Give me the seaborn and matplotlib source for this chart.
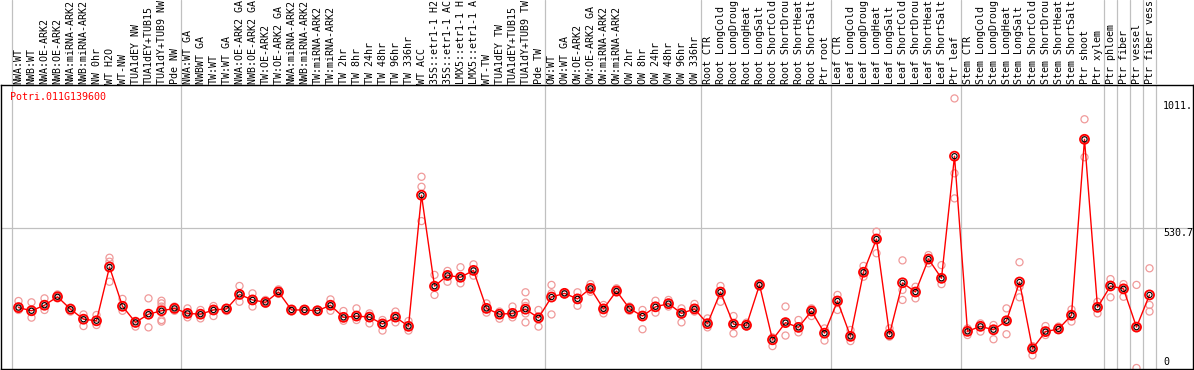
import numpy as np
import pandas as pd
import matplotlib
matplotlib.use('Agg')
import matplotlib.pyplot as plt
import seaborn as sns

gene = "Potri.011G139600"

# sample names as they show in the header (cut at 14 characters)
labels = [
    "NWA:WT", "NWB:WT", "NWA:OE-ARK2", "NWB:OE-ARK2", "NWA:miRNA-ARK2", "NWB:miRNA-ARK2",
    "NW 0hr", "WT H2O", "WT-NW", "TUA1dEY NW", "TUA1dEY+TUB15", "TUA1dY+TUB9 NW", "Pde NW",
    "NWA:WT GA", "NWBWT GA", "TW:WT", "TW:WT GA", "NWA:OE-ARK2 GA", "NWB:OE-ARK2 GA",
    "TW:OE-ARK2", "TW:OE-ARK2 GA", "NWA:miRNA-ARK2", "NWB:miRNA-ARK2", "TW:miRNA-ARK2",
    "TW:miRNA-ARK2", "TW 2hr", "TW 8hr", "TW 24hr", "TW 48hr", "TW 96hr", "TW 336hr",
    "WT ACC", "35S::etr1-1 H2", "35S::etr1-1 AC", "LMX5::etr1-1 H", "LMX5::etr1-1 A",
    "WT-TW", "TUA1dEY TW", "TUA1dEY+TUB15", "TUA1dY+TUB9 TW", "Pde TW",
    "OW:WT", "OW:WT GA", "OW:OE-ARK2", "OW:OE-ARK2 GA", "OW:miRNA-ARK2", "OW:miRNA-ARK2",
    "OW 2hr", "OW 8hr", "OW 24hr", "OW 48hr", "OW 96hr", "OW 336hr",
    "Root CTR", "Root LongCold", "Root LongDroug", "Root LongHeat", "Root LongSalt",
    "Root ShortCold", "Root ShortDrou", "Root ShortHeat", "Root ShortSalt", "Ptr root",
    "Leaf CTR", "Leaf LongCold", "Leaf LongDroug", "Leaf LongHeat", "Leaf LongSalt",
    "Leaf ShortCold", "Leaf ShortDrou", "Leaf ShortHeat", "Leaf ShortSalt", "Ptr leaf",
    "Stem CTR", "Stem LongCold", "Stem LongDroug", "Stem LongHeat", "Stem LongSalt",
    "Stem ShortCold", "Stem ShortDrou", "Stem ShortHeat", "Stem ShortSalt", "Ptr shoot",
    "Ptr xylem", "Ptr phloem", "Ptr fiber", "Ptr vessel", "Ptr fiber vess",
]

means = [
    229, 217, 238, 270, 223, 185, 179, 383, 234, 173, 204, 217, 226,
    207, 204, 220, 224, 279, 258, 249, 288, 220, 220, 217, 238, 192, 197, 193,
    167, 193, 158, 655, 310, 351, 344, 370, 226, 204, 207, 223, 190,
    269, 283, 262, 302, 224, 292, 225, 197, 232, 244, 207, 224,
    168, 288, 166, 162, 315, 107, 172, 154, 216, 132,
    254, 120, 363, 489, 128, 323, 288, 413, 340, 803,
    139, 158, 145, 179, 326, 73, 138, 148, 200, 867, 230,
    311, 300, 155, 277,
]

replicates = [
    [254, 229, 220], [249, 216, 191], [264, 238, 220], [279, 270, 264], [229, 220, 214],
    [203, 185, 159], [201, 176, 163], [418, 403, 327], [262, 233, 217], [179, 169, 157],
    [264, 200, 154], [255, 245, 233, 182, 176], [233, 226, 217],
    [226, 207, 192], [220, 203, 188], [235, 220, 197], [226, 220, 216], [311, 277, 251],
    [283, 258, 233], [258, 249, 243], [298, 288, 281], [222, 220, 214], [222, 220, 216],
    [220, 217, 214], [260, 238, 217], [216, 192, 179], [226, 197, 182], [207, 193, 169],
    [182, 167, 142], [214, 193, 173], [178, 158, 142], [725, 687, 557], [353, 310, 277],
    [368, 351, 327], [382, 344, 321], [393, 370, 350], [245, 226, 210], [214, 203, 187],
    [233, 207, 192], [287, 248, 235, 207, 173], [220, 190, 157],
    [315, 283, 203], [286, 283, 279], [287, 262, 236], [318, 302, 289], [239, 224, 207],
    [302, 292, 286], [233, 225, 217], [220, 197, 147], [255, 233, 210], [258, 244, 233],
    [226, 207, 173], [243, 224, 214],
    [188, 168, 154], [311, 288, 251], [197, 166, 131], [172, 162, 157], [321, 315, 308],
    [116, 107, 83], [233, 172, 123], [182, 154, 135], [226, 216, 197], [150, 131, 104],
    [277, 254, 220], [144, 120, 102], [387, 363, 346], [517, 489, 435], [150, 128, 119],
    [408, 296, 258], [308, 288, 264], [428, 413, 397], [390, 340, 318], [1022, 738, 643],
    [150, 139, 125], [169, 158, 138], [163, 145, 109], [226, 179, 128], [401, 308, 268],
    [83, 73, 48], [159, 138, 125], [157, 148, 144], [222, 200, 176], [943, 867, 799],
    [251, 230, 207],
    [337, 311, 268], [318, 300, 270], [315, 155, 0], [378, 239, 214],
]

# group boundaries (index of last sample in each block)
group_ends = [12, 40, 52, 62, 72, 83, 84, 85, 86, 87]
y_ticks = [0, 530.7, 1011.3]
y_tick_labels = ["0", "530.7", "1011."]

pos = np.arange(len(labels))
rep_df = pd.DataFrame([(i, v) for i, reps in enumerate(replicates) for v in reps],
                      columns=['pos', 'value'])
mean_df = pd.DataFrame({'pos': pos, 'value': means})

sns.set_style('white')
plt.rcParams['font.family'] = ['DejaVu Sans Mono']

W, H = 1194, 370
fig = plt.figure(figsize=(W / 100, H / 100), dpi=100)
ax = fig.add_axes([1 / W, 1 / H, 1192 / W, 284 / H])
ax_top = fig.add_axes([1 / W, 285 / H, 1192 / W, 85 / H])

xmin = (1 - 18.5) / 13
xmax = (1193 - 18.5) / 13
ymin, ymax = -3.8, 1072.9
px = (ymax - ymin) / 284  # value per pixel
ax.set_xlim(xmin, xmax)
ax.set_ylim(ymin, ymax)
ax_top.set_xlim(xmin, xmax)
ax_top.set_ylim(0, 1)
ax_top.axis('off')

grid_c = '#c0c0c0'
for b in [-1] + group_ends:
    ax.axvline(b + 0.5, color=grid_c, lw=0.9, zorder=0)
    ax_top.axvline(b + 0.5, color=grid_c, lw=0.9, zorder=0)
ax.axhline(530.7, color=grid_c, lw=0.9, zorder=0)

sns.scatterplot(data=rep_df, x='pos', y='value', ax=ax, marker='o', s=26,
                fc='none', ec='#f09a9a', linewidth=0.9, zorder=2, legend=False)
sns.lineplot(data=mean_df, x='pos', y='value', ax=ax, color='red', lw=1.0,
             zorder=3, legend=False)
sns.scatterplot(data=mean_df, x='pos', y='value', ax=ax, marker='o', s=42,
                fc='none', ec='red', linewidth=1.3, zorder=4, legend=False)
sns.scatterplot(data=mean_df, x='pos', y='value', ax=ax, marker='o', s=14,
                fc='none', ec='black', linewidth=0.8, zorder=5, legend=False)

for i, lab in enumerate(labels):
    ax_top.text(i, 0.01, lab, rotation=90, ha='center', va='bottom',
                fontsize=7.2, color='black')

ax.text((10 - 18.5) / 13, ymax - 12 * px, gene, color='red', fontsize=7.2,
        ha='left', va='center')
for t, lab in zip(y_ticks, y_tick_labels):
    yt = max(t - 5 * px, ymin + 7 * px)
    ax.text((1163 - 18.5) / 13, yt, lab, fontsize=7.2, ha='left',
            va='center', color='black')

ax.set_xticks([])
ax.set_yticks([])
ax.set_xlabel('')
ax.set_ylabel('')
for s in ax.spines.values():
    s.set_visible(True)
    s.set_color('black')
    s.set_linewidth(1.0)

fig.savefig('out.png', dpi=100)
